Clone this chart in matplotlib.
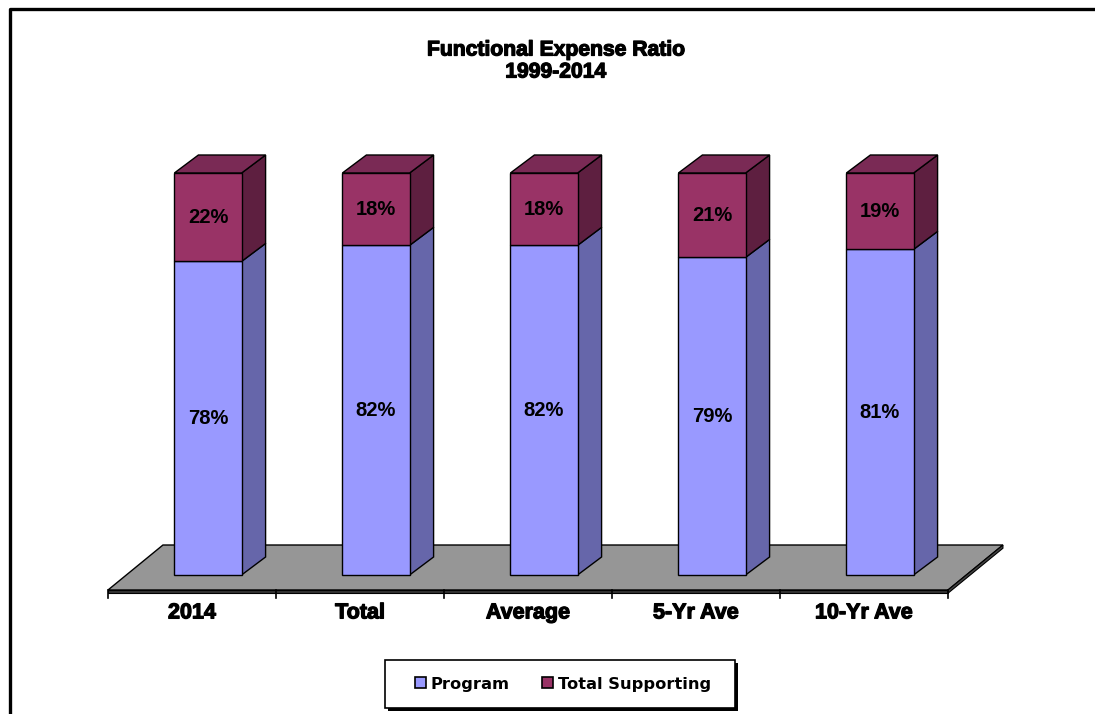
import matplotlib
matplotlib.use("Agg")
import matplotlib.pyplot as plt
from matplotlib.patches import Polygon, Rectangle, Patch
from matplotlib.lines import Line2D
import matplotlib.patheffects as pe

# ---- data ----
categories = ["2014", "Total", "Average", "5-Yr Ave", "10-Yr Ave"]
program = [78, 82, 82, 79, 81]
supporting = [22, 18, 18, 21, 19]
series_names = ["Program", "Total Supporting"]
title_lines = ["Functional Expense Ratio", "1999-2014"]

# ---- style ----
W, H = 1095, 714
prog_front, prog_side = "#9999FF", "#6666AA"
sup_front, sup_side, sup_top = "#993366", "#5E1F40", "#7A2A55"
floor_col = "#969696"
bar_w = 0.40
off_x, off_y = 0.095, 3.73      # bar front face offset from floor front
dep_x, dep_y = 0.143, 4.48      # bar depth
fl_x, fl_y = 0.327, 11.19       # floor depth
heavy = [pe.withStroke(linewidth=0.9, foreground="black")]

fig = plt.figure(figsize=(W / 100, H / 100), dpi=100)
ax = fig.add_axes([0, 0, 1, 1])
ax.set_xlim(-1.1429, 5.375)
ax.set_ylim(-30.85, 146.77)
ax.axis("off")

n = len(categories)
x0f, x1f = -0.5, n - 0.5
# floor
ax.add_patch(Polygon([(x0f, 0), (x1f, 0), (x1f + fl_x, fl_y), (x0f + fl_x, fl_y)],
                     closed=True, facecolor=floor_col, edgecolor="black", lw=1.0, zorder=1))
# floor thickness
th = 0.8
ax.add_patch(Polygon([(x0f, 0), (x1f, 0), (x1f, -th), (x0f, -th)],
                     closed=True, facecolor="#333333", edgecolor="black", lw=0.8, zorder=1))
ax.add_patch(Polygon([(x1f, 0), (x1f + fl_x, fl_y), (x1f + fl_x, fl_y - th), (x1f, -th)],
                     closed=True, facecolor="#444444", edgecolor="black", lw=0.8, zorder=1))
# tick marks
for k in range(n + 1):
    ax.plot([x0f + k, x0f + k], [0, -2.0], color="black", lw=1.2, zorder=1)

xs = list(range(n))
xc = [x + off_x for x in xs]
ax.bar(xc, program, width=bar_w, bottom=off_y, color=prog_front, edgecolor="black",
       lw=1.0, zorder=3)
ax.bar(xc, supporting, width=bar_w, bottom=[p + off_y for p in program], color=sup_front,
       edgecolor="black", lw=1.0, zorder=3)

for i in range(n):
    xr = xc[i] + bar_w / 2
    xl = xc[i] - bar_w / 2
    segs = [(0, program[i], prog_side, None),
            (program[i], program[i] + supporting[i], sup_side, sup_top)]
    for b, t, side, top in segs:
        b2, t2 = b + off_y, t + off_y
        ax.add_patch(Polygon([(xr, b2), (xr + dep_x, b2 + dep_y), (xr + dep_x, t2 + dep_y), (xr, t2)],
                             closed=True, facecolor=side, edgecolor="black", lw=1.0, zorder=2))
        if top is not None:
            ax.add_patch(Polygon([(xl, t2), (xl + dep_x, t2 + dep_y), (xr + dep_x, t2 + dep_y), (xr, t2)],
                                 closed=True, facecolor=top, edgecolor="black", lw=1.0, zorder=2))
    # value labels
    ax.text(xc[i], off_y + program[i] / 2, f"{program[i]}%", ha="center", va="center",
            fontsize=14.5, fontweight="bold", family="Liberation Sans", zorder=4)
    ax.text(xc[i], off_y + program[i] + supporting[i] / 2, f"{supporting[i]}%", ha="center",
            va="center", fontsize=14.5, fontweight="bold", family="Liberation Sans", zorder=4)
    ax.text(xs[i], -5.7, categories[i], ha="center", va="center", fontsize=15.5,
            fontweight="bold", family="Liberation Sans", path_effects=heavy)

# title
for line, yp in zip(title_lines, [50, 72]):
    fig.text(556 / W, 1 - yp / H, line, ha="center", va="center", fontsize=15.2,
             fontweight="bold", family="Liberation Sans", path_effects=heavy)

# chart border (top and left)
fig.add_artist(Line2D([10 / W, 10 / W, 1.0], [0.0, 1 - 9 / H, 1 - 9 / H],
                      transform=fig.transFigure, color="black", lw=2.4))

# legend box with shadow
lx, ly, lw_, lh = 385 / W, 1 - 708 / H, 350 / W, 48 / H
fig.add_artist(Rectangle((lx + 3 / W, ly - 3 / H), lw_, lh, transform=fig.transFigure,
                         facecolor="black", edgecolor="black", lw=0))
fig.add_artist(Rectangle((lx, ly), lw_, lh, transform=fig.transFigure,
                         facecolor="white", edgecolor="black", lw=1.2))
handles = [Patch(facecolor=prog_front, edgecolor="black", lw=1.2),
           Patch(facecolor=sup_front, edgecolor="black", lw=1.2)]
fig.legend(handles, series_names, loc="center", bbox_to_anchor=(563 / W, 1 - 684 / H),
           ncol=2, frameon=False, handlelength=0.65, handleheight=0.65, handletextpad=0.3,
           columnspacing=2.0, prop={"family": "DejaVu Sans", "weight": "bold", "size": 11.7})

fig.savefig("out.png", dpi=100)
